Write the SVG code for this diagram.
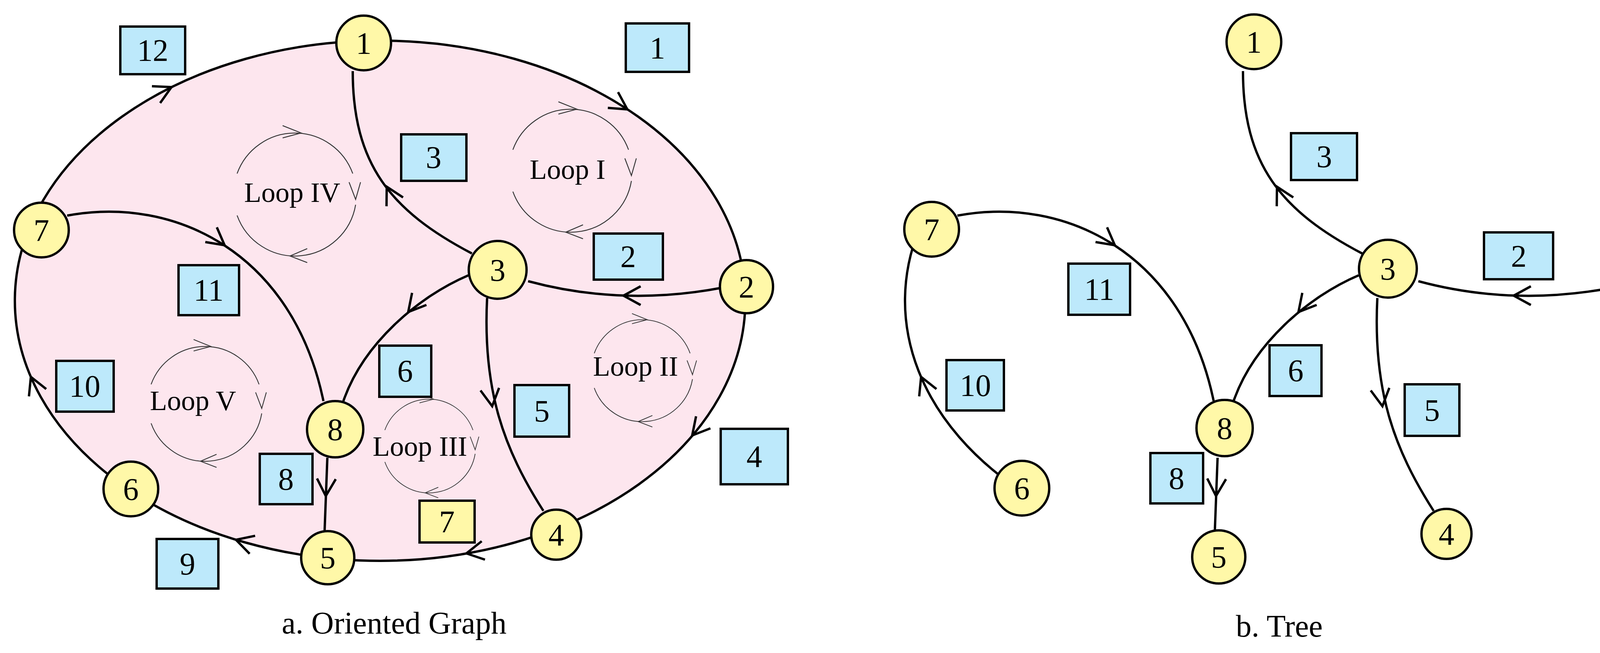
<svg xmlns="http://www.w3.org/2000/svg" xmlns:xlink="http://www.w3.org/1999/xlink" width="4284" height="1672" viewBox="0 0 4284 1672">
<style>
.edge{fill:none;stroke:#000;stroke-width:6}
.ah{fill:none;stroke:#000;stroke-width:6}
.node circle{fill:#fff8a8;stroke:#000;stroke-width:6}
.box{fill:#bde9fb;stroke:#000;stroke-width:6}
.ybox{fill:#fff8a8;stroke:#000;stroke-width:6}
text{font-family:"Liberation Serif","Times New Roman",serif;font-size:80px;text-anchor:middle;fill:#000}
.loopt{font-size:72px}
.loop{fill:none;stroke:#333;stroke-width:2.2}
</style>
<defs>
<path id="ah" d="M-44,-24 L0,0 L-44,24"/>
<g id="loopsym">
<path d="M-141,-51 A150 150 0 0 1 141,-51"/>
<path d="M148,25 A150 150 0 0 1 -141,51"/>
<path d="M-30,-168 L15,-150 L-30,-138"/>
<path d="M132,-30 L148,12 L160,-30"/>
<path d="M30,132 L-12,150 L30,166"/>
</g>
</defs>
<rect width="4284" height="1672" fill="#fff"/>
<ellipse cx="973" cy="770" rx="935" ry="666" fill="#fde6ee" stroke="#000" stroke-width="6"/>
<g id="loops" class="loop">
<use xlink:href="#loopsym" transform="translate(1461,437) scale(1.05)"/>
<use xlink:href="#loopsym" transform="translate(755,498) scale(1.05)"/>
<use xlink:href="#loopsym" transform="translate(1644,949) scale(0.87)"/>
<use xlink:href="#loopsym" transform="translate(525,1034) scale(0.98)"/>
<use xlink:href="#loopsym" transform="translate(1098,1142) scale(0.8)"/>
</g>
<g id="connectors">
<path class="edge" d="M903,182 C903,420 1000,540 1208,649"/>
<path class="edge" d="M1847,737 Q1593,785 1352,720"/>
<path class="edge" d="M1199,705 C1070,760 930,880 879,1027"/>
<path class="edge" d="M1247,763 C1235,1000 1290,1150 1391,1308"/>
<path class="edge" d="M172,552 C450,500 750,650 828,1027"/>
<path class="edge" d="M838,1172 L831,1359"/>
<g class="ah">
<use xlink:href="#ah" transform="translate(1606,280) rotate(33)"/>
<use xlink:href="#ah" transform="translate(439,223) rotate(-26)"/>
<use xlink:href="#ah" transform="translate(79,965) rotate(-113)"/>
<use xlink:href="#ah" transform="translate(604,1382) rotate(197)"/>
<use xlink:href="#ah" transform="translate(1194,1417) rotate(170)"/>
<use xlink:href="#ah" transform="translate(1772,1115) rotate(130)"/>
<use xlink:href="#ah" transform="translate(990,478) rotate(-118)"/>
<use xlink:href="#ah" transform="translate(1596,757) rotate(180)"/>
<use xlink:href="#ah" transform="translate(1045,799) rotate(130)"/>
<use xlink:href="#ah" transform="translate(1260,1040) rotate(82)"/>
<use xlink:href="#ah" transform="translate(575,628) rotate(38)"/>
<use xlink:href="#ah" transform="translate(834,1270) rotate(92)"/>
</g>
<g transform="translate(2279,0)">
<path class="edge" d="M903,182 C903,420 1000,540 1208,649"/>
<path class="edge" d="M1847,737 Q1593,785 1352,720"/>
<path class="edge" d="M1199,705 C1070,760 930,880 879,1027"/>
<path class="edge" d="M1247,763 C1235,1000 1290,1150 1391,1308"/>
<path class="edge" d="M172,552 C450,500 750,650 828,1027"/>
<path class="edge" d="M838,1172 L831,1359"/>
<path class="edge" d="M335,1257 A935 666 0 0 1 73,589"/>
<g class="ah">
<use xlink:href="#ah" transform="translate(79,965) rotate(-113)"/>
<use xlink:href="#ah" transform="translate(990,478) rotate(-118)"/>
<use xlink:href="#ah" transform="translate(1596,757) rotate(180)"/>
<use xlink:href="#ah" transform="translate(1045,799) rotate(130)"/>
<use xlink:href="#ah" transform="translate(1260,1040) rotate(82)"/>
<use xlink:href="#ah" transform="translate(575,628) rotate(38)"/>
<use xlink:href="#ah" transform="translate(834,1270) rotate(92)"/>
</g>
</g>
</g>
<g id="labels-a">
<rect class="box" x="308" y="68" width="166" height="122"/><text x="391" y="156">12</text>
<rect class="box" x="1602" y="60" width="162" height="124"/><text x="1683" y="150">1</text>
<rect class="box" x="1027" y="344" width="167" height="119"/><text x="1110" y="430">3</text>
<rect class="box" x="1520" y="598" width="177" height="118"/><text x="1608" y="684">2</text>
<rect class="box" x="457" y="679" width="155" height="128"/><text x="534" y="770">11</text>
<rect class="box" x="971" y="885" width="133" height="131"/><text x="1037" y="977">6</text>
<rect class="box" x="1317" y="986" width="140" height="132"/><text x="1387" y="1080">5</text>
<rect class="box" x="144" y="924" width="147" height="130"/><text x="217" y="1016">10</text>
<rect class="box" x="1845" y="1098" width="172" height="142"/><text x="1931" y="1196">4</text>
<rect class="box" x="665" y="1162" width="135" height="129"/><text x="732" y="1254">8</text>
<rect class="ybox" x="1074" y="1282" width="141" height="107"/><text x="1144" y="1363">7</text>
<rect class="box" x="401" y="1380" width="158" height="127"/><text x="480" y="1471">9</text>
<text class="loopt" x="1453" y="458">Loop I</text>
<text class="loopt" x="748" y="517">Loop IV</text>
<text class="loopt" x="1627" y="962">Loop II</text>
<text class="loopt" x="494" y="1050">Loop V</text>
<text class="loopt" x="1075" y="1167">Loop III</text>
<text x="1009" y="1622">a. Oriented Graph</text>
</g>
<g id="a-n1" class="node"><circle cx="931" cy="110" r="70"/><text x="931" y="138">1</text></g>
<g id="a-n2" class="node"><circle cx="1911" cy="734" r="68"/><text x="1911" y="762">2</text></g>
<g id="a-n3" class="node"><circle cx="1274" cy="691" r="74"/><text x="1274" y="719">3</text></g>
<g id="a-n4" class="node"><circle cx="1424" cy="1369" r="64"/><text x="1424" y="1397">4</text></g>
<g id="a-n5" class="node"><circle cx="839" cy="1428" r="68"/><text x="839" y="1456">5</text></g>
<g id="a-n6" class="node"><circle cx="335" cy="1252" r="70"/><text x="335" y="1280">6</text></g>
<g id="a-n7" class="node"><circle cx="106" cy="589" r="70"/><text x="106" y="617">7</text></g>
<g id="a-n8" class="node"><circle cx="858" cy="1099" r="72"/><text x="858" y="1127">8</text></g>
<g id="labels-b">
<rect class="box" x="3305" y="341" width="169" height="120"/><text x="3390" y="428">3</text>
<rect class="box" x="3799" y="595" width="177" height="120"/><text x="3888" y="683">2</text>
<rect class="box" x="2735" y="675" width="158" height="131"/><text x="2814" y="768">11</text>
<rect class="box" x="3250" y="884" width="133" height="130"/><text x="3317" y="976">6</text>
<rect class="box" x="3596" y="984" width="140" height="132"/><text x="3666" y="1078">5</text>
<rect class="box" x="2423" y="922" width="147" height="129"/><text x="2497" y="1014">10</text>
<rect class="box" x="2945" y="1160" width="135" height="129"/><text x="3012" y="1252">8</text>
<text x="3275" y="1630">b. Tree</text>
</g>
<g id="b-n1" class="node"><circle cx="3210" cy="107" r="70"/><text x="3210" y="135">1</text></g>
<g id="b-n2" class="node"><circle cx="4192" cy="732" r="68"/><text x="4192" y="760">2</text></g>
<g id="b-n3" class="node"><circle cx="3553" cy="688" r="74"/><text x="3553" y="716">3</text></g>
<g id="b-n4" class="node"><circle cx="3703" cy="1367" r="64"/><text x="3703" y="1395">4</text></g>
<g id="b-n5" class="node"><circle cx="3120" cy="1426" r="68"/><text x="3120" y="1454">5</text></g>
<g id="b-n6" class="node"><circle cx="2616" cy="1250" r="70"/><text x="2616" y="1278">6</text></g>
<g id="b-n7" class="node"><circle cx="2385" cy="587" r="70"/><text x="2385" y="615">7</text></g>
<g id="b-n8" class="node"><circle cx="3135" cy="1096" r="72"/><text x="3135" y="1124">8</text></g>
</svg>
